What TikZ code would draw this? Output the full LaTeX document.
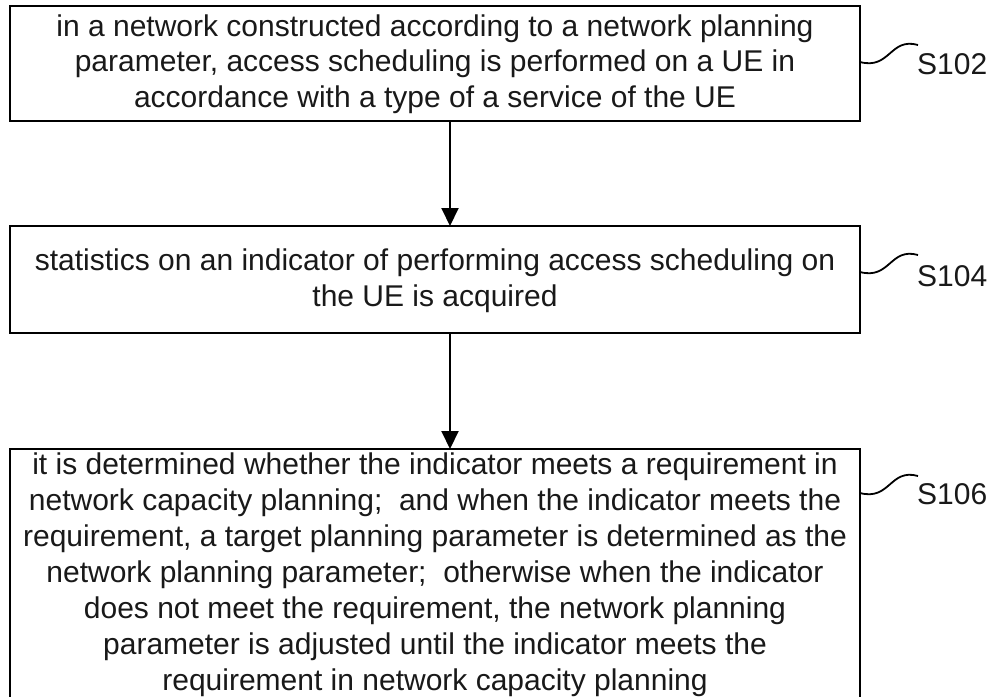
\documentclass[tikz,border=0pt]{standalone}
\usepackage{fontspec}
\setmainfont{Liberation Sans}
\usetikzlibrary{arrows.meta}
\begin{document}
\begin{tikzpicture}[x=1pt,y=-1pt,
  box/.style={draw=black,line width=2pt,fill=white},
  txt/.style={align=center,font=\fontsize{30}{35.7}\selectfont,text=black!90,inner sep=0pt},
  lbl/.style={anchor=west,font=\fontsize{30}{35}\selectfont,text=black!90,inner sep=0pt},
  arr/.style={line width=2pt,-{Triangle[width=17pt,length=18pt]}},
  sq/.style={line width=1.8pt}]
\useasboundingbox (0,0) rectangle (995,696);
\draw[box] (10,6) rectangle (860,121);
\draw[box] (10,226) rectangle (860,333);
\draw[box] (10,449) rectangle (860,702);
\node[txt] (t1) at (435,64) {in a network constructed according to a network planning\\parameter, access scheduling is performed on a UE in\\accordance with a type of a service of the UE};
\node[txt] (t2) at (435,281) {statistics on an indicator of performing access scheduling on\\the UE is acquired};
\node[txt,font=\fontsize{30}{36}\selectfont] (t3) at (435,575) {it is determined whether the indicator meets a requirement in\\network capacity planning;\ \ and when the indicator meets the\\requirement, a target planning parameter is determined as the\\network planning parameter;\ \ otherwise when the indicator\\does not meet the requirement, the network planning\\parameter is adjusted until the indicator meets the\\requirement in network capacity planning};
\coordinate (a1) at (450,121);
\coordinate (b2) at (450,226);
\coordinate (a2) at (450,333);
\coordinate (b3) at (450,449);
\draw[arr] (a1) -- (b2);
\draw[arr] (a2) -- (b3);
\node[lbl] (l1) at (917,64) {S102};
\node[lbl] (l2) at (917,276) {S104};
\node[lbl] (l3) at (917,494) {S106};
\coordinate (c1) at (860,62);
\coordinate (c2) at (860,272);
\coordinate (c3) at (860,493);
\draw[sq] (c1) .. controls +(30,8) and +(-28,-8) .. +(58,-17);
\draw[sq] (c2) .. controls +(30,8) and +(-28,-8) .. +(58,-17);
\draw[sq] (c3) .. controls +(30,8) and +(-28,-8) .. +(58,-17);
\end{tikzpicture}
\end{document}
